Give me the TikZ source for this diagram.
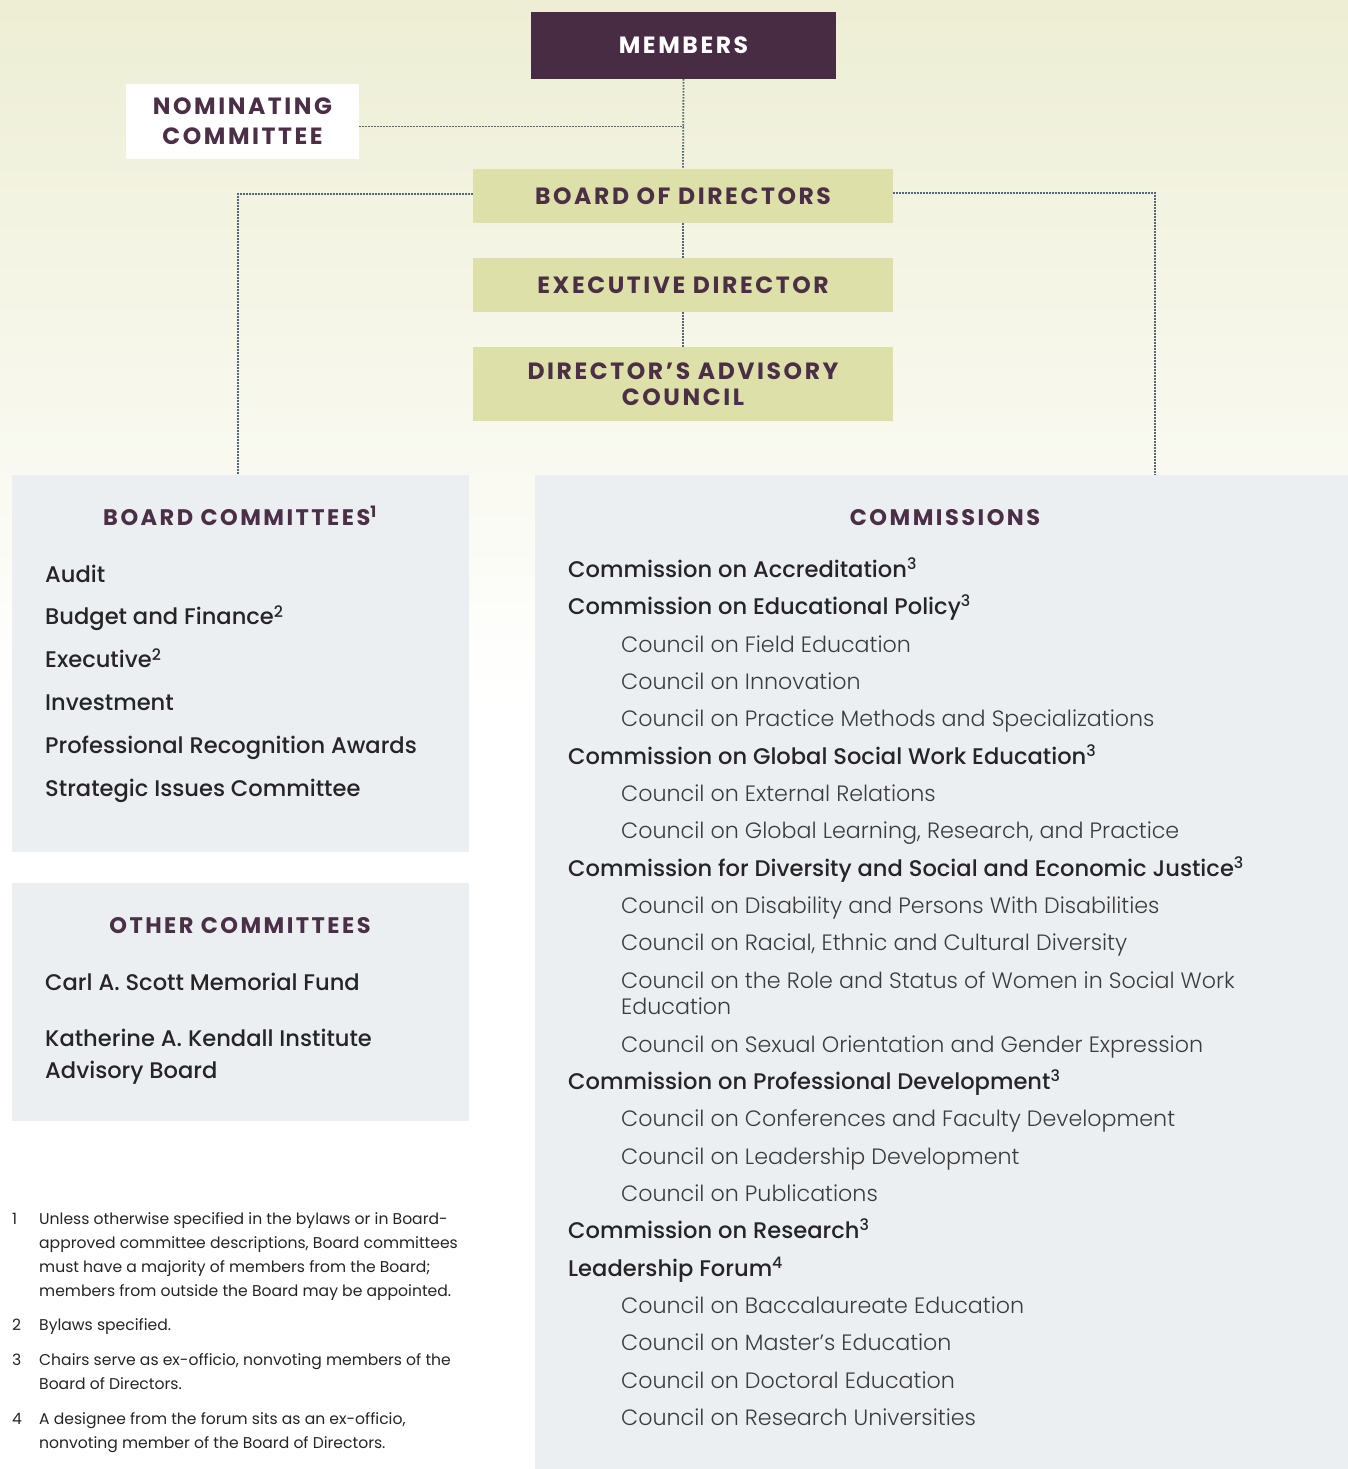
\documentclass[tikz,border=0pt]{standalone}
\usepackage{fontspec}
\setmainfont{Poppins}
\newfontfamily\headfont{Poppins}[LetterSpace=11]
\newfontfamily\medfont{Poppins Medium}
\newfontfamily\lightfont{Poppins Light}

\definecolor{plum}{HTML}{472C44}
\definecolor{headplum}{HTML}{4A2F46}
\definecolor{boxgreen}{HTML}{DEE0A9}
\definecolor{panelgray}{HTML}{ECEFF2}
\definecolor{bgtop}{HTML}{EDEED4}
\definecolor{dotblue}{HTML}{53677A}
\definecolor{bodytext}{HTML}{262426}
\definecolor{lighttext}{HTML}{3C3C3C}

\tikzset{
  orgbox/.style={inner sep=0pt, minimum width=420, minimum height=54, fill=boxgreen,
    text=headplum, align=center, font=\headfont\bfseries\fontsize{23.5}{26}\selectfont},
  dotline/.style={draw=dotblue, line width=1.8pt, dash pattern=on 1.4pt off 1.6pt},
  panel/.style={fill=panelgray},
  panelhead/.style={anchor=base, inner sep=0pt, text=headplum,
    font=\headfont\bfseries\fontsize{22.5}{26}\selectfont},
  itemtxt/.style={anchor=base west, inner sep=0pt, text=bodytext,
    font=\medfont\fontsize{22.6}{32}\selectfont, align=left},
  counciltxt/.style={anchor=base west, inner sep=0pt, text=lighttext,
    font=\lightfont\fontsize{22.2}{26}\selectfont, align=left},
  notetxt/.style={anchor=base west, inner sep=0pt, text=bodytext,
    font=\fontsize{15.6}{24}\selectfont, align=left}
}

\begin{document}
\begin{tikzpicture}[x=1pt,y=-1pt]
  \useasboundingbox (0,0) rectangle (1348,1469);
  \fill[white] (0,0) rectangle (1348,1469);
  \shade[top color=bgtop, bottom color=white] (0,0) rectangle (1348,700);

  % panels
  \fill[panel] (12,475) rectangle (469,852);
  \fill[panel] (12,883) rectangle (469,1121);
  \fill[panel] (535,475) rectangle (1348,1469);

  % top chart
  \node[orgbox, fill=plum, text=white, minimum width=305, minimum height=67] (members) at (683.5,45.5) {MEMBERS};
  \node[orgbox, fill=white, minimum width=233, minimum height=75, font=\headfont\bfseries\fontsize{23.5}{30}\selectfont] (nominating) at (242.5,121.5) {NOMINATING\\COMMITTEE};
  \node[orgbox] (board) at (683,196) {BOARD OF DIRECTORS};
  \node[orgbox] (exec) at (683,285) {EXECUTIVE DIRECTOR};
  \node[orgbox, minimum height=74] (dac) at (683,384) {DIRECTOR’S ADVISORY\\COUNCIL};

  \coordinate (bctop) at (238,475);
  \coordinate (comtop) at (1155,475);
  \draw[dotline] (members.south) -- (board.north);
  \draw[dotline] ([yshift=-5pt]nominating.east) -- ([yshift=-5pt]nominating.east -| members.south);
  \draw[dotline] (board.south) -- (exec.north);
  \draw[dotline] (exec.south) -- (dac.north);
  \draw[dotline] ([yshift=2pt]board.west) -| (bctop);
  \draw[dotline] ([yshift=3pt]board.east) -| (comtop);

  % board committees
  \node[panelhead] (bchead) at (240,525) {BOARD COMMITTEES\textsuperscript{1}};
  \foreach \t [count=\i] in {Audit, Budget and Finance\textsuperscript{2}, Executive\textsuperscript{2},
      Investment, Professional Recognition Awards, Strategic Issues Committee}
    \node[itemtxt] (bc\i) at (45,{582+(\i-1)*42.8}) {\t};

  % other committees
  \node[panelhead] (ochead) at (240,933) {OTHER COMMITTEES};
  \node[itemtxt] (oc1) at (45,990) {Carl A. Scott Memorial Fund};
  \node[itemtxt] (oc2) at (45,1078) {Katherine A. Kendall Institute\\Advisory Board};

  % commissions
  \node[panelhead] (comhead) at (945,525) {COMMISSIONS};
  \foreach \y/\t/\n in {577/Commission on Accreditation\textsuperscript{3}/acc,
      614/Commission on Educational Policy\textsuperscript{3}/edu,
      764/Commission on Global Social Work Education\textsuperscript{3}/glob,
      876/Commission for Diversity and Social and Economic Justice\textsuperscript{3}/div,
      1089/Commission on Professional Development\textsuperscript{3}/prof,
      1238/Commission on Research\textsuperscript{3}/res,
      1276/Leadership Forum\textsuperscript{4}/lead}
    \node[itemtxt] (com-\n) at (568,\y) {\t};
  \foreach \y/\t/\n in {652/Council on Field Education/field,
      689/Council on Innovation/innov,
      726/Council on Practice Methods and Specializations/pract,
      801/Council on External Relations/ext,
      838/{Council on Global Learning, Research, and Practice}/glearn,
      913/Council on Disability and Persons With Disabilities/disab,
      950/{Council on Racial, Ethnic and Cultural Diversity}/racial,
      1014/Council on the Role and Status of Women in Social Work\\Education/women,
      1052/Council on Sexual Orientation and Gender Expression/sexual,
      1126/Council on Conferences and Faculty Development/conf,
      1164/Council on Leadership Development/ldev,
      1201/Council on Publications/pub,
      1313/Council on Baccalaureate Education/bacc,
      1350/Council on Master’s Education/mast,
      1388/Council on Doctoral Education/doct,
      1425/Council on Research Universities/runiv}
    \node[counciltxt] (cou-\n) at (621,\y) {\t};

  % footnotes
  \foreach \y/\k in {1224/1, 1330/2, 1365/3, 1424/4}
    \node[notetxt] (fnum\k) at (12,\y) {\k};
  \node[notetxt] (fn1) at (39,1296) {Unless otherwise specified in the bylaws or in Board-\\approved committee descriptions, Board committees\\must have a majority of members from the Board;\\members from outside the Board may be appointed.};
  \node[notetxt] (fn2) at (39,1330) {Bylaws specified.};
  \node[notetxt] (fn3) at (39,1389) {Chairs serve as ex-officio, nonvoting members of the\\Board of Directors.};
  \node[notetxt] (fn4) at (39,1448) {A designee from the forum sits as an ex-officio,\\nonvoting member of the Board of Directors.};
\end{tikzpicture}
\end{document}
